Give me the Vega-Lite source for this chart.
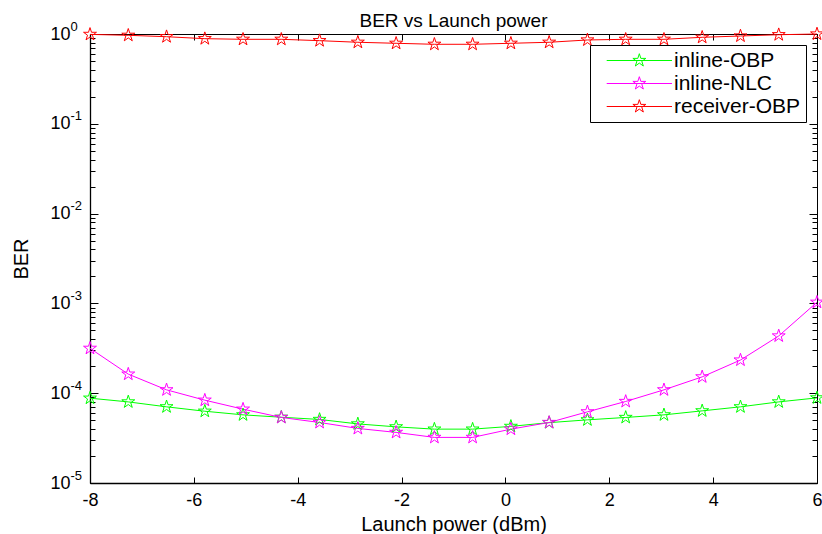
{
  "$schema": "https://vega.github.io/schema/vega-lite/v6.json",
  "width": 727,
  "height": 449,
  "autosize": {"type": "none"},
  "padding": {"left": 90, "top": 34, "right": 5, "bottom": 51},
  "background": "white",
  "title": {"text": "BER vs Launch power", "fontSize": 19, "font": "Liberation Sans", "fontWeight": "normal", "color": "black", "offset": 7, "dy": 18, "anchor": "middle"},
  "config": {
    "view": {"stroke": "black", "strokeWidth": 1},
    "axis": {"labelFont": "Liberation Sans", "titleFont": "Liberation Sans", "labelColor": "black", "titleColor": "black", "tickColor": "black", "tickWidth": 1, "domainColor": "black", "grid": false, "titleFontWeight": "normal", "labelOverlap": false, "labelBound": false, "labelFlush": false}
  },
  "data": {"values": [
    {"power": -8, "ber": 8.8e-5, "series": "inline-OBP"},
    {"power": -7.263, "ber": 8.0e-5, "series": "inline-OBP"},
    {"power": -6.526, "ber": 7.05e-5, "series": "inline-OBP"},
    {"power": -5.789, "ber": 6.3e-5, "series": "inline-OBP"},
    {"power": -5.053, "ber": 5.74e-5, "series": "inline-OBP"},
    {"power": -4.316, "ber": 5.4e-5, "series": "inline-OBP"},
    {"power": -3.579, "ber": 5.1e-5, "series": "inline-OBP"},
    {"power": -2.842, "ber": 4.55e-5, "series": "inline-OBP"},
    {"power": -2.105, "ber": 4.22e-5, "series": "inline-OBP"},
    {"power": -1.368, "ber": 3.98e-5, "series": "inline-OBP"},
    {"power": -0.632, "ber": 3.98e-5, "series": "inline-OBP"},
    {"power": 0.105, "ber": 4.27e-5, "series": "inline-OBP"},
    {"power": 0.842, "ber": 4.7e-5, "series": "inline-OBP"},
    {"power": 1.579, "ber": 5.05e-5, "series": "inline-OBP"},
    {"power": 2.316, "ber": 5.37e-5, "series": "inline-OBP"},
    {"power": 3.053, "ber": 5.74e-5, "series": "inline-OBP"},
    {"power": 3.789, "ber": 6.36e-5, "series": "inline-OBP"},
    {"power": 4.526, "ber": 7.05e-5, "series": "inline-OBP"},
    {"power": 5.263, "ber": 8.0e-5, "series": "inline-OBP"},
    {"power": 6, "ber": 8.87e-5, "series": "inline-OBP"},
    {"power": -8, "ber": 3.16e-4, "series": "inline-NLC"},
    {"power": -7.263, "ber": 1.63e-4, "series": "inline-NLC"},
    {"power": -6.526, "ber": 1.09e-4, "series": "inline-NLC"},
    {"power": -5.789, "ber": 8.36e-5, "series": "inline-NLC"},
    {"power": -5.053, "ber": 6.64e-5, "series": "inline-NLC"},
    {"power": -4.316, "ber": 5.37e-5, "series": "inline-NLC"},
    {"power": -3.579, "ber": 4.72e-5, "series": "inline-NLC"},
    {"power": -2.842, "ber": 4.05e-5, "series": "inline-NLC"},
    {"power": -2.105, "ber": 3.66e-5, "series": "inline-NLC"},
    {"power": -1.368, "ber": 3.22e-5, "series": "inline-NLC"},
    {"power": -0.632, "ber": 3.22e-5, "series": "inline-NLC"},
    {"power": 0.105, "ber": 3.98e-5, "series": "inline-NLC"},
    {"power": 0.842, "ber": 4.72e-5, "series": "inline-NLC"},
    {"power": 1.579, "ber": 6.2e-5, "series": "inline-NLC"},
    {"power": 2.316, "ber": 8.09e-5, "series": "inline-NLC"},
    {"power": 3.053, "ber": 1.09e-4, "series": "inline-NLC"},
    {"power": 3.789, "ber": 1.52e-4, "series": "inline-NLC"},
    {"power": 4.526, "ber": 2.34e-4, "series": "inline-NLC"},
    {"power": 5.263, "ber": 4.34e-4, "series": "inline-NLC"},
    {"power": 6, "ber": 1.03e-3, "series": "inline-NLC"},
    {"power": -8, "ber": 0.99, "series": "receiver-OBP"},
    {"power": -7.263, "ber": 0.967, "series": "receiver-OBP"},
    {"power": -6.526, "ber": 0.933, "series": "receiver-OBP"},
    {"power": -5.789, "ber": 0.887, "series": "receiver-OBP"},
    {"power": -5.053, "ber": 0.873, "series": "receiver-OBP"},
    {"power": -4.316, "ber": 0.873, "series": "receiver-OBP"},
    {"power": -3.579, "ber": 0.843, "series": "receiver-OBP"},
    {"power": -2.842, "ber": 0.809, "series": "receiver-OBP"},
    {"power": -2.105, "ber": 0.788, "series": "receiver-OBP"},
    {"power": -1.368, "ber": 0.768, "series": "receiver-OBP"},
    {"power": -0.632, "ber": 0.768, "series": "receiver-OBP"},
    {"power": 0.105, "ber": 0.788, "series": "receiver-OBP"},
    {"power": 0.842, "ber": 0.809, "series": "receiver-OBP"},
    {"power": 1.579, "ber": 0.858, "series": "receiver-OBP"},
    {"power": 2.316, "ber": 0.873, "series": "receiver-OBP"},
    {"power": 3.053, "ber": 0.873, "series": "receiver-OBP"},
    {"power": 3.789, "ber": 0.919, "series": "receiver-OBP"},
    {"power": 4.526, "ber": 0.95, "series": "receiver-OBP"},
    {"power": 5.263, "ber": 0.982, "series": "receiver-OBP"},
    {"power": 6, "ber": 1.0, "series": "receiver-OBP"}
  ]},
  "layer": [
    {
      "mark": {"type": "line", "strokeWidth": 1},
      "encoding": {
        "x": {"field": "power", "type": "quantitative", "scale": {"domain": [-8, 6], "nice": false, "zero": false},
          "axis": {"orient": "bottom", "title": "Launch power (dBm)", "values": [-8, -6, -4, -2, 0, 2, 4, 6], "labelExpr": "'' + datum.value", "tickSize": -6, "labelPadding": 14, "labelFontSize": 18, "titleFontSize": 20, "titlePadding": 5, "domainWidth": 1.3}},
        "y": {"field": "ber", "type": "quantitative", "scale": {"type": "log", "domain": [1e-5, 1], "nice": false},
          "axis": {"orient": "left", "title": "BER", "titleFontSize": 20, "titlePadding": 18,
            "values": [1e-5, 1e-4, 1e-3, 1e-2, 0.1, 1],
            "labelExpr": "'10'",
            "tickSize": -8,
            "labelPadding": 28, "labelFontSize": 18, "domainWidth": 1.3}},
        "color": {"field": "series", "type": "nominal",
          "scale": {"domain": ["inline-OBP", "inline-NLC", "receiver-OBP"], "range": ["#00ff00", "#ff00ff", "#ff0000"]},
          "legend": {"title": null, "orient": "top-right", "offset": 11,
            "symbolType": "M-1,0L8.6,0M3.8,-1L4.0245,-0.309L4.751,-0.309L4.1633,0.118L4.3878,0.809L3.8,0.382L3.2122,0.809L3.4367,0.118L2.849,-0.309L3.5755,-0.309Z",
            "symbolSize": 185, "symbolStrokeWidth": 1, "symbolFillColor": "transparent",
            "labelFontSize": 21, "labelFont": "Liberation Sans", "labelColor": "black", "labelLimit": 300,
            "strokeColor": "black", "fillColor": "white", "padding": 5, "symbolOffset": 8, "labelOffset": 50, "rowPadding": 1}}
      }
    },
    {
      "mark": {"type": "point", "shape": "M0,-1L0.2245,-0.309L0.951,-0.309L0.3633,0.118L0.5878,0.809L0,0.382L-0.5878,0.809L-0.3633,0.118L-0.951,-0.309L-0.2245,-0.309Z", "filled": false, "size": 185, "strokeWidth": 1, "opacity": 1},
      "encoding": {
        "x": {"field": "power", "type": "quantitative",
          "axis": {"orient": "top", "title": null, "labels": false, "values": [-8, -6, -4, -2, 0, 2, 4, 6], "tickSize": -6, "domain": false}},
        "y": {"field": "ber", "type": "quantitative",
          "axis": {"orient": "right", "title": null, "labels": false, "domain": false,
            "values": [1e-5, 2e-5, 3e-5, 4e-5, 5e-5, 6e-5, 7e-5, 8e-5, 9e-5, 1e-4, 2e-4, 3e-4, 4e-4, 5e-4, 6e-4, 7e-4, 8e-4, 9e-4, 1e-3, 2e-3, 3e-3, 4e-3, 5e-3, 6e-3, 7e-3, 8e-3, 9e-3, 1e-2, 2e-2, 3e-2, 4e-2, 5e-2, 6e-2, 7e-2, 8e-2, 9e-2, 0.1, 0.2, 0.3, 0.4, 0.5, 0.6, 0.7, 0.8, 0.9, 1],
            "tickSize": -5}},
        "color": {"field": "series", "type": "nominal",
          "scale": {"domain": ["inline-OBP", "inline-NLC", "receiver-OBP"], "range": ["#00ff00", "#ff00ff", "#ff0000"]},
          "legend": {"title": null, "orient": "top-right", "offset": 11,
            "symbolType": "M-1,0L8.6,0M3.8,-1L4.0245,-0.309L4.751,-0.309L4.1633,0.118L4.3878,0.809L3.8,0.382L3.2122,0.809L3.4367,0.118L2.849,-0.309L3.5755,-0.309Z",
            "symbolSize": 185, "symbolStrokeWidth": 1, "symbolFillColor": "transparent",
            "labelFontSize": 21, "labelFont": "Liberation Sans", "labelColor": "black", "labelLimit": 300,
            "strokeColor": "black", "fillColor": "white", "padding": 5, "symbolOffset": 8, "labelOffset": 50, "rowPadding": 1}}
      }
    },
    {
      "mark": {"type": "point", "opacity": 0},
      "encoding": {
        "x": {"field": "power", "type": "quantitative", "axis": null},
        "y": {"field": "ber", "type": "quantitative",
          "axis": {"orient": "left", "title": null, "domain": false,
            "values": [1e-5, 2e-5, 3e-5, 4e-5, 5e-5, 6e-5, 7e-5, 8e-5, 9e-5, 1e-4, 2e-4, 3e-4, 4e-4, 5e-4, 6e-4, 7e-4, 8e-4, 9e-4, 1e-3, 2e-3, 3e-3, 4e-3, 5e-3, 6e-3, 7e-3, 8e-3, 9e-3, 1e-2, 2e-2, 3e-2, 4e-2, 5e-2, 6e-2, 7e-2, 8e-2, 9e-2, 0.1, 0.2, 0.3, 0.4, 0.5, 0.6, 0.7, 0.8, 0.9, 1],
            "labelExpr": "abs(log(datum.value)/LN10 - round(log(datum.value)/LN10)) < 0.001 ? '' + round(log(datum.value)/LN10) : ''",
            "tickSize": -5,
            "labelAlign": "left", "labelPadding": 25, "labelOffset": -8, "labelFontSize": 13}}
      }
    },
    {
      "mark": {"type": "point", "opacity": 0},
      "encoding": {
        "x": {"field": "power", "type": "quantitative", "axis": null},
        "y": {"field": "ber", "type": "quantitative",
          "axis": {"orient": "right", "title": null, "domain": false, "labels": false,
            "values": [1e-5, 1e-4, 1e-3, 1e-2, 0.1, 1],
            "tickSize": -8}}
      }
    }
  ],
  "resolve": {"axis": {"x": "independent", "y": "independent"}}
}
